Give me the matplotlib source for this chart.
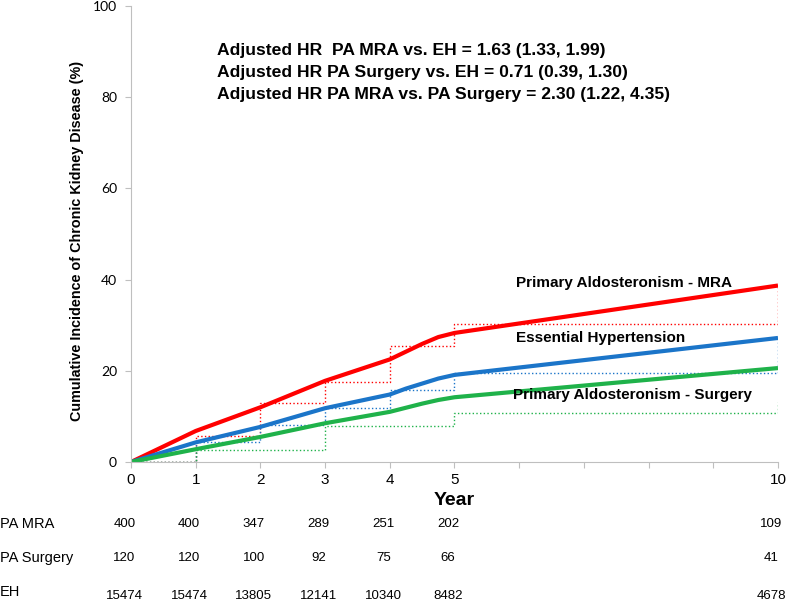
import matplotlib.pyplot as plt
import numpy as np

# smooth (modelled) curves
years = [0, 1, 2, 3, 4, 4.25, 4.5, 4.75, 5, 10]
mra = [0, 6.8, 12.0, 17.8, 22.5, 24.2, 25.9, 27.4, 28.3, 38.7]
eh = [0, 4.3, 7.7, 11.8, 14.8, 16.1, 17.2, 18.3, 19.1, 27.2]
surg = [0, 2.8, 5.5, 8.5, 11.0, 11.9, 12.8, 13.6, 14.2, 20.6]

# observed step curves
step_years = [0, 1, 2, 3, 4, 5, 10]
mra_step = [0, 5.7, 13.0, 17.5, 25.5, 30.2, 38.7]
eh_step = [0, 4.3, 8.1, 11.9, 15.8, 19.5, 27.2]
surg_step = [0, 2.6, 2.6, 8.0, 8.0, 10.7, 13.2]

# numbers at risk
risk_years = [0, 1, 2, 3, 4, 5, 10]
risk_mra = [400, 400, 347, 289, 251, 202, 109]
risk_surg = [120, 120, 100, 92, 75, 66, 41]
risk_eh = [15474, 15474, 13805, 12141, 10340, 8482, 4678]

red = '#ff0000'
blue = '#1b75c9'
green = '#1fb24a'
plt.rcParams['font.family'] = ['Liberation Sans', 'DejaVu Sans']

fig = plt.figure(figsize=(8, 6.02), dpi=100)
ax = fig.add_axes([131/800, 1 - 462/602, 647/800, 456/602])

ax.plot(step_years, mra_step, drawstyle='steps-post', color=red, lw=1, ls=':')
ax.plot(step_years, eh_step, drawstyle='steps-post', color=blue, lw=1, ls=':')
ax.plot(step_years, surg_step, drawstyle='steps-post', color=green, lw=1, ls=':')
ax.plot(years, mra, color=red, lw=3, solid_capstyle='butt', solid_joinstyle='round')
ax.plot(years, eh, color=blue, lw=3, solid_capstyle='butt', solid_joinstyle='round')
ax.plot(years, surg, color=green, lw=3, solid_capstyle='butt', solid_joinstyle='round')

ax.set_xlim(0, 10)
ax.set_ylim(0, 100)
ax.set_xticks(range(11))
ax.set_xticklabels(['0', '1', '2', '3', '4', '5', '', '', '', '', '10'], fontsize=11)
ax.set_yticks(range(0, 101, 20))
ax.set_yticklabels([str(v) for v in range(0, 101, 20)], fontsize=10, family='Lato')
for s in ['top', 'right']:
    ax.spines[s].set_visible(False)
for s in ['left', 'bottom']:
    ax.spines[s].set_color('#bfbfbf')
ax.tick_params(colors='#bfbfbf', labelcolor='black', length=4)
ax.tick_params(axis='x', pad=4)
ax.tick_params(axis='y', pad=6)

ax.set_ylabel('Cumulative Incidence of Chronic Kidney Disease (%)',
              fontsize=10.4, fontweight='bold')
ax.yaxis.set_label_coords((84 - 131) / 647, 0.485)
ax.text(5, -8.5, 'Year', ha='center', va='center', fontsize=14, fontweight='bold')

hr_lines = ['Adjusted HR  PA MRA vs. EH = 1.63 (1.33, 1.99)',
            'Adjusted HR PA Surgery vs. EH = 0.71 (0.39, 1.30)',
            'Adjusted HR PA MRA vs. PA Surgery = 2.30 (1.22, 4.35)']
for i, t in enumerate(hr_lines):
    ax.text(1.33, 90.3 - 4.9 * i, t, ha='left', va='center', fontsize=12.6,
            fontweight='bold')

ax.text(5.95, 39.3, 'Primary Aldosteronism - MRA', fontsize=11, fontweight='bold', va='center')
ax.text(5.95, 27.3, 'Essential Hypertension', fontsize=11, fontweight='bold', va='center')
ax.text(5.9, 14.6, 'Primary Aldosteronism - Surgery', fontsize=11, fontweight='bold', va='center')

# numbers at risk table
rows = [('PA MRA', risk_mra, -13.5), ('PA Surgery', risk_surg, -21.0), ('EH', risk_eh, -28.5)]
for name, vals, yy in rows:
    ax.text(-131 / 64.7, yy, name, ha='left', va='center', fontsize=10.5, clip_on=False)
    for x, v in zip(risk_years, vals):
        ax.text(x - 0.1, yy - (0.9 if name == 'EH' else 0), str(v), ha='center', va='center',
                fontsize=9.5, clip_on=False)

fig.savefig('out.png', dpi=100)
